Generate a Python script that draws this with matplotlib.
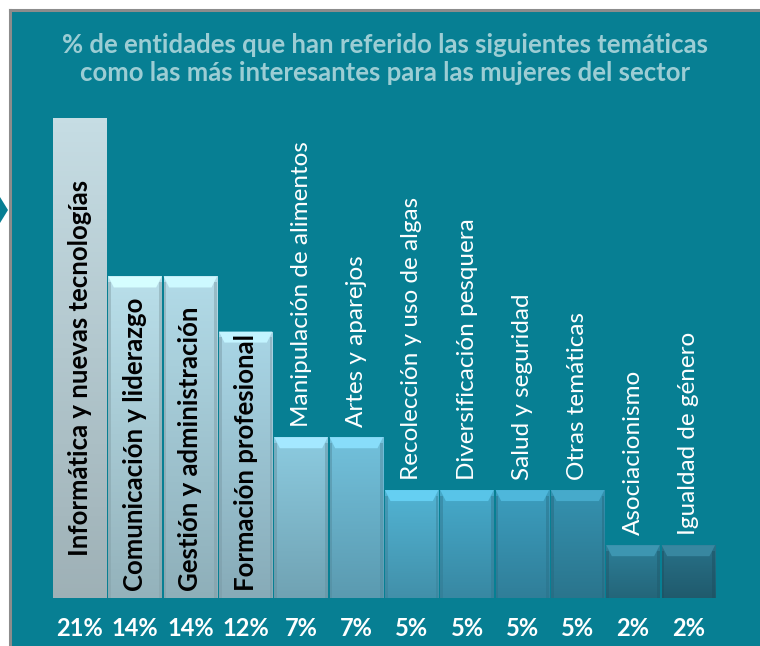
import matplotlib.pyplot as plt
import matplotlib.patches as mpatches
import matplotlib.colors as mcolors
import numpy as np

# % of entities (43 answers) per topic
temas = ['Informática y nuevas tecnologías', 'Comunicación y liderazgo',
         'Gestión y administración', 'Formación profesional',
         'Manipulación de alimentos', 'Artes y aparejos',
         'Recolección y uso de algas', 'Diversificación pesquera',
         'Salud y seguridad', 'Otras temáticas', 'Asociacionismo',
         'Igualdad de género']
porcentajes = [20.9, 14.0, 14.0, 11.6, 7.0, 7.0, 4.7, 4.7, 4.7, 4.7, 2.3, 2.3]
etiquetas = ['21%', '14%', '14%', '12%', '7%', '7%', '5%', '5%', '5%', '5%', '2%', '2%']

bar_colors = ['#c6dde4', '#b9dfea', '#b2dbe8', '#a9d6e6', '#8ccbe0', '#72c1dc',
              '#52b4d4', '#46aacb', '#3c9ebf', '#3592b0', '#2d7f98', '#287188']

TEAL = '#077f93'
W, H = 760, 646

plt.rcParams['font.family'] = ['Lato', 'DejaVu Sans']

fig = plt.figure(figsize=(W / 100, H / 100), dpi=100, facecolor='white')

# teal panel with grey top/left border
def fx(px):
    return px / W

def fy(py):
    return 1 - py / H

panel = mpatches.Rectangle((fx(10), 0), 1 - fx(10), fy(10), transform=fig.transFigure,
                           facecolor=TEAL, edgecolor='none', zorder=-2)
fig.patches.append(panel)
fig.lines.append(plt.Line2D([fx(10), fx(10)], [0, fy(10)], transform=fig.transFigure,
                            color='#8c8c8c', lw=2.2, zorder=-1))
fig.lines.append(plt.Line2D([fx(10), 1], [fy(10), fy(10)], transform=fig.transFigure,
                            color='#8c8c8c', lw=2.2, zorder=-1))
arrow = mpatches.Polygon([(fx(0), fy(197)), (fx(8), fy(210)), (fx(0), fy(223))],
                         closed=True, transform=fig.transFigure, facecolor=TEAL,
                         edgecolor='none', zorder=-1)
fig.patches.append(arrow)

fig.text(0.507, fy(45), '% de entidades que han referido las siguientes temáticas',
         ha='center', va='center', fontsize=18.5, fontweight='bold', color='#9ccdd4')
fig.text(0.507, fy(73), 'como las más interesantes para las mujeres del sector',
         ha='center', va='center', fontsize=18.5, fontweight='bold', color='#9ccdd4')

ax = fig.add_axes([fx(52), fy(598), fx(716) - fx(52), fy(118) - fy(598)])
ax.set_facecolor('none')
ax.set_xlim(-0.5, len(temas) - 0.5)
ax.set_ylim(0, max(porcentajes))
ax.axis('off')

x = np.arange(len(temas))
bars = ax.bar(x, porcentajes, width=0.965, color='none', edgecolor='none')

px_per_unit = (598 - 118) / max(porcentajes)
grad = np.linspace(0, 1, 100).reshape(-1, 1)

for i, b in enumerate(bars):
    x0, w, h = b.get_x(), b.get_width(), b.get_height()
    c = np.array(mcolors.to_rgb(bar_colors[i]))
    dark = c * 0.8
    cmap = mcolors.LinearSegmentedColormap.from_list('g', [dark, c])
    im = ax.imshow(grad, extent=(x0, x0 + w, 0, h), origin='lower', cmap=cmap,
                   aspect='auto', zorder=2)
    im.set_clip_path(b)
    if i > 0:
        # bevel on top and sides
        bev_y = 11 / px_per_unit
        bev_x = 0.1
        top = mpatches.Polygon([(x0, h), (x0 + w, h), (x0 + w - bev_x, h - bev_y),
                                (x0 + bev_x, h - bev_y)], closed=True,
                               facecolor=np.minimum(c * 1.08 + 0.05, 1), edgecolor='none',
                               zorder=3)
        ax.add_patch(top)
        for xs in [(x0, x0 + 0.05), (x0 + w - 0.05, x0 + w)]:
            ax.add_patch(mpatches.Rectangle((xs[0], 0), xs[1] - xs[0], h - bev_y * 0.5,
                                            facecolor=dark * 0.9, edgecolor='none',
                                            alpha=0.5, zorder=3))
    ax.text(x0 + w / 2, -30 / px_per_unit, etiquetas[i], ha='center', va='center',
            fontsize=17, fontweight='bold', color='white', clip_on=False)
    if i < 4:
        ax.text(x0 + w / 2, 7 / px_per_unit if i else 42 / px_per_unit, temas[i],
                rotation=90, ha='center', va='bottom', fontsize=18.5,
                fontweight='bold', color='black', zorder=5)
    else:
        ax.text(x0 + w / 2, h + 10 / px_per_unit, temas[i], rotation=90,
                ha='center', va='bottom', fontsize=17.5, color='white', zorder=5,
                clip_on=False)

fig.savefig('out.png', dpi=100, facecolor='white')
